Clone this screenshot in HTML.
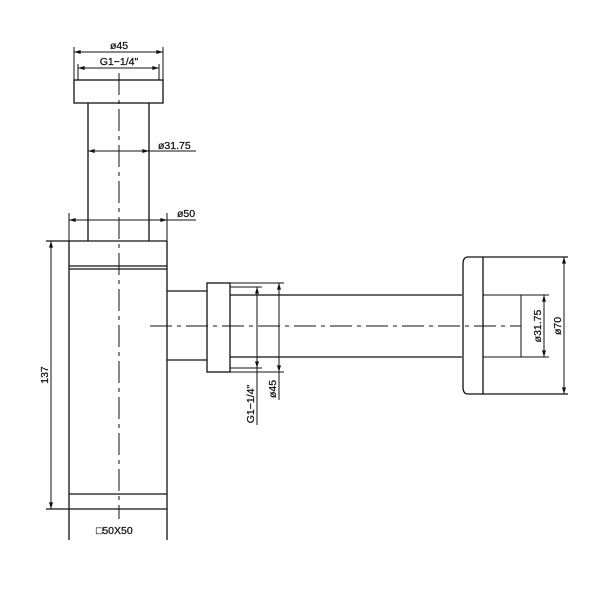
<!DOCTYPE html>
<html><head><meta charset="utf-8"><style>
html,body{margin:0;padding:0;background:#fff;}
svg{display:block;}
text{font-family:"Liberation Sans",sans-serif;font-size:10.5px;fill:#111;stroke:#111;stroke-width:0.25;}
</style></head><body>
<svg width="600" height="600" viewBox="0 0 600 600" xmlns="http://www.w3.org/2000/svg">
<defs>
<marker id="a" viewBox="0 0 10 6" refX="10" refY="3" markerWidth="8" markerHeight="4" orient="auto-start-reverse" markerUnits="userSpaceOnUse"><path d="M0,0 L10,3 L0,6 z" fill="#111"/></marker>
</defs>
<g stroke="#111" fill="none" stroke-width="1.3">
<rect x="74" y="80" width="89" height="23"/>
<line x1="74" y1="47" x2="74" y2="80" stroke-width="1"/>
<line x1="163" y1="47" x2="163" y2="80" stroke-width="1"/>
<line x1="78" y1="64" x2="78" y2="80" stroke-width="1"/>
<line x1="159" y1="64" x2="159" y2="80" stroke-width="1"/>
<line x1="74" y1="52" x2="163" y2="52" stroke-width="1" marker-start="url(#a)" marker-end="url(#a)"/>
<line x1="78" y1="68" x2="159" y2="68" stroke-width="1" marker-start="url(#a)" marker-end="url(#a)"/>
<line x1="88" y1="103" x2="88" y2="241"/>
<line x1="149" y1="103" x2="149" y2="241"/>
<line x1="88" y1="151" x2="149" y2="151" stroke-width="1" marker-start="url(#a)" marker-end="url(#a)"/>
<line x1="149" y1="151" x2="196" y2="151" stroke-width="1"/>
<line x1="69" y1="213" x2="69" y2="241" stroke-width="1"/>
<line x1="167" y1="213" x2="167" y2="241" stroke-width="1"/>
<line x1="69" y1="220" x2="167" y2="220" stroke-width="1" marker-start="url(#a)" marker-end="url(#a)"/>
<line x1="167" y1="220" x2="196" y2="220" stroke-width="1"/>
<line x1="46" y1="241" x2="167" y2="241"/>
<line x1="69" y1="241" x2="69" y2="540"/>
<line x1="167" y1="241" x2="167" y2="540"/>
<line x1="69" y1="266" x2="167" y2="266"/>
<line x1="69" y1="269" x2="167" y2="269"/>
<line x1="69" y1="494" x2="167" y2="494"/>
<line x1="46" y1="509" x2="167" y2="509"/>
<line x1="51" y1="241" x2="51" y2="509" stroke-width="1" marker-start="url(#a)" marker-end="url(#a)"/>
<line x1="119" y1="73" x2="119" y2="519" stroke-width="1" stroke-dasharray="22,5,4,5"/>
<line x1="167" y1="291" x2="207" y2="291"/>
<line x1="167" y1="360" x2="207" y2="360"/>
<rect x="207" y="283" width="23" height="89"/>
<line x1="230" y1="287" x2="262" y2="287" stroke-width="1"/>
<line x1="230" y1="368" x2="262" y2="368" stroke-width="1"/>
<line x1="230" y1="283" x2="284" y2="283" stroke-width="1"/>
<line x1="230" y1="372" x2="284" y2="372" stroke-width="1"/>
<line x1="257" y1="287" x2="257" y2="368" stroke-width="1" marker-start="url(#a)" marker-end="url(#a)"/>
<line x1="257" y1="368" x2="257" y2="425" stroke-width="1"/>
<line x1="279" y1="283" x2="279" y2="372" stroke-width="1" marker-start="url(#a)" marker-end="url(#a)"/>
<line x1="279" y1="372" x2="279" y2="400" stroke-width="1"/>
<line x1="230" y1="295" x2="462" y2="295"/>
<line x1="230" y1="357" x2="462" y2="357"/>
<path d="M468,257 L568,257 M468,394 L568,394 M468,257 Q463,257 463,264 L463,387 Q463,394 468,394"/>
<line x1="483" y1="257" x2="483" y2="394"/>
<line x1="483" y1="295" x2="549" y2="295" stroke-width="1"/>
<line x1="483" y1="357" x2="549" y2="357" stroke-width="1"/>
<line x1="521" y1="295" x2="521" y2="357" stroke-width="1"/>
<line x1="544" y1="295" x2="544" y2="357" stroke-width="1" marker-start="url(#a)" marker-end="url(#a)"/>
<line x1="564" y1="257" x2="564" y2="394" stroke-width="1" marker-start="url(#a)" marker-end="url(#a)"/>
<line x1="150" y1="326" x2="521" y2="326" stroke-width="1" stroke-dasharray="22,5,4,5"/>
</g>
<text x="119" y="49" text-anchor="middle">ø45</text>
<text x="119" y="65" text-anchor="middle">G1−1/4"</text>
<text x="158" y="149">ø31.75</text>
<text x="177" y="217">ø50</text>
<text x="96" y="534">□50X50</text>
<text transform="translate(48,375) rotate(-90)" text-anchor="middle">137</text>
<text transform="translate(254,404) rotate(-90)" text-anchor="middle">G1−1/4"</text>
<text transform="translate(276,389) rotate(-90)" text-anchor="middle">ø45</text>
<text transform="translate(541,326) rotate(-90)" text-anchor="middle">ø31.75</text>
<text transform="translate(561,326) rotate(-90)" text-anchor="middle">ø70</text>
</svg>
</body></html>
